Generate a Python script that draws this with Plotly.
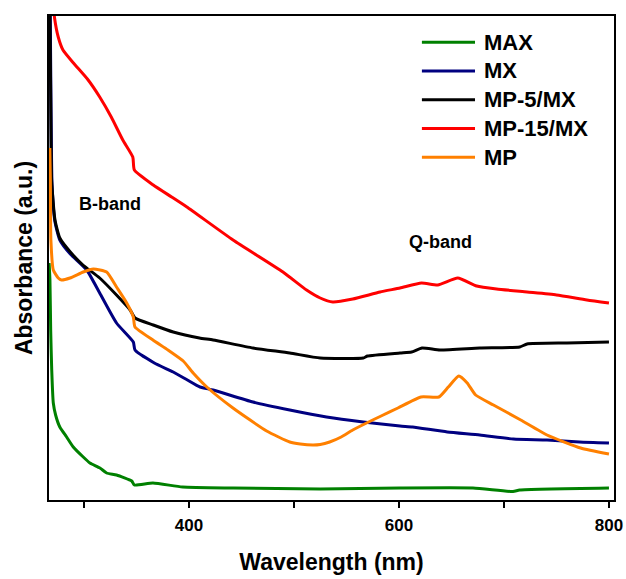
import plotly.graph_objects as go

# UV-Vis absorbance spectra: wavelength (nm) and absorbance (a.u.)
max_nm = [266.8, 267.6, 268.3, 269.3, 270.8, 273, 277, 283.5, 289.8, 299.3, 305.7, 315.2, 321.6, 331,
          345.5, 348, 365.7, 394, 442, 525, 601, 670.5, 708.6, 715, 800]
max_abs = [2.37, 2.20, 1.70, 1.30, 0.97, 0.85, 0.73, 0.63, 0.53, 0.43, 0.37, 0.32, 0.27, 0.25,
           0.19, 0.15, 0.17, 0.13, 0.12, 0.11, 0.12, 0.12, 0.085, 0.10, 0.12]

mx_nm = [267.8, 268.3, 269, 269.6, 272.4, 277, 287, 302.6, 315, 331, 347, 348.6, 367, 385, 398.5,
         410.5, 423, 461, 496, 531, 566, 601, 613, 646, 677, 709, 741, 772, 800]
mx_abs = [5.0, 4.33, 3.53, 3.15, 2.78, 2.60, 2.46, 2.30, 2.07, 1.77, 1.58, 1.50, 1.37, 1.28, 1.20,
          1.13, 1.10, 0.98, 0.90, 0.83, 0.78, 0.74, 0.73, 0.68, 0.65, 0.61, 0.60, 0.58, 0.57]

mp5_nm = [267.5, 268.5, 269.2, 272.4, 277, 287, 299, 315, 331, 344, 348.6, 366, 385, 410, 423,
          461, 496, 525, 566, 570, 601, 612, 622, 639, 677, 715, 722, 760, 800]
mp5_abs = [5.0, 3.8, 3.20, 2.80, 2.62, 2.48, 2.35, 2.22, 2.05, 1.90, 1.82, 1.75, 1.68, 1.62, 1.60,
           1.52, 1.47, 1.42, 1.42, 1.44, 1.47, 1.48, 1.52, 1.50, 1.52, 1.53, 1.56, 1.57, 1.58]

mp15_nm = [270.5, 272, 275.5, 280, 290, 304, 315, 326, 337, 346.5, 348, 366, 383.5, 398, 442,
           489.5, 512, 525, 537, 556, 582, 601, 621.5, 637, 656, 674, 693, 722, 750, 779, 800]
mp15_abs = [5.0, 4.82, 4.63, 4.50, 4.37, 4.20, 4.03, 3.83, 3.60, 3.43, 3.30, 3.15, 3.03, 2.93, 2.60,
            2.28, 2.10, 2.02, 1.98, 2.01, 2.08, 2.12, 2.17, 2.15, 2.22, 2.14, 2.11, 2.08, 2.05, 2.00, 1.97]

mp_nm = [267.5, 268, 268.5, 270.8, 275.5, 278.6, 286.7, 299.3, 308.9, 321.6, 331, 340.7, 347, 348.6,
         365.7, 380, 394.5, 404, 417, 441.9, 474, 496, 506, 518, 525, 534, 545, 556, 575, 583, 599, 621,
         638, 647, 657, 665, 673, 690, 716, 741, 773, 800]
mp_abs = [3.52, 3.20, 2.60, 2.30, 2.22, 2.20, 2.22, 2.28, 2.31, 2.28, 2.13, 1.97, 1.83, 1.73,
          1.60, 1.50, 1.39, 1.27, 1.13, 0.92, 0.69, 0.58, 0.56, 0.55, 0.555, 0.58, 0.63, 0.70, 0.80, 0.84,
          0.92, 1.03, 1.03, 1.13, 1.24, 1.17, 1.05, 0.95, 0.80, 0.65, 0.52, 0.46]

names = ["MAX", "MX", "MP-5/MX", "MP-15/MX", "MP"]
colors = ["#008000", "#000080", "#000000", "#FF0000", "#FF8000"]
xs = [max_nm, mx_nm, mp5_nm, mp15_nm, mp_nm]
ys = [max_abs, mx_abs, mp5_abs, mp15_abs, mp_abs]

band_labels = ["B-band", "Q-band"]
band_nm = [325, 639.5]
band_abs = [2.96, 2.58]

FONT = "Liberation Sans, Arial, sans-serif"

fig = go.Figure()
for name, color, x, y in zip(names, colors, xs, ys):
    fig.add_trace(go.Scatter(x=x, y=y, name=name, mode="lines",
                             line=dict(color=color, width=3, shape="spline", smoothing=0.5),
                             showlegend=False))

# band labels
for text, bx, by in zip(band_labels, band_nm, band_abs):
    fig.add_annotation(x=bx, y=by, text=text, showarrow=False,
                       font=dict(family=FONT, size=18, color="black", weight="bold"))

# legend drawn as line samples plus labels in the upper right
leg_x0, leg_x1, leg_tx = 0.660, 0.754, 0.766
for i, (name, color) in enumerate(zip(names, colors)):
    yy = 0.946 - i * 0.0594
    fig.add_shape(type="line", xref="paper", yref="paper", x0=leg_x0, x1=leg_x1, y0=yy, y1=yy,
                  line=dict(color=color, width=3))
    fig.add_annotation(xref="paper", yref="paper", x=leg_tx, y=yy, text=name, showarrow=False,
                       xanchor="left", yanchor="middle",
                       font=dict(family=FONT, size=22, color="black", weight="bold"))

fig.update_layout(
    width=626, height=579,
    margin=dict(l=49, r=12, t=16, b=79),
    plot_bgcolor="white", paper_bgcolor="white",
    showlegend=False,
    font=dict(family=FONT, color="black", weight="bold"),
)
fig.update_xaxes(
    range=[266.7, 804.8], tick0=0, dtick=200, automargin=False,
    showline=True, linecolor="black", linewidth=2, mirror=True,
    ticks="outside", ticklen=6, tickwidth=2, tickcolor="black",
    minor=dict(dtick=100, tick0=0, ticks="outside", ticklen=6, tickwidth=2, tickcolor="black"),
    showgrid=False, zeroline=False,
    tickfont=dict(family=FONT, size=17, color="black", weight="bold"),
    ticklabelstandoff=3,
    title=dict(text="Wavelength (nm)", standoff=19,
               font=dict(family=FONT, size=23, color="black", weight="bold")),
)
fig.update_yaxes(
    range=[0, 4.84], automargin=False,
    showline=True, linecolor="black", linewidth=2, mirror=True,
    ticks="", showticklabels=False, showgrid=False, zeroline=False,
    title=dict(text="Absorbance (a.u.)", standoff=8,
               font=dict(family=FONT, size=23, color="black", weight="bold")),
)

fig.write_html("out.html")
